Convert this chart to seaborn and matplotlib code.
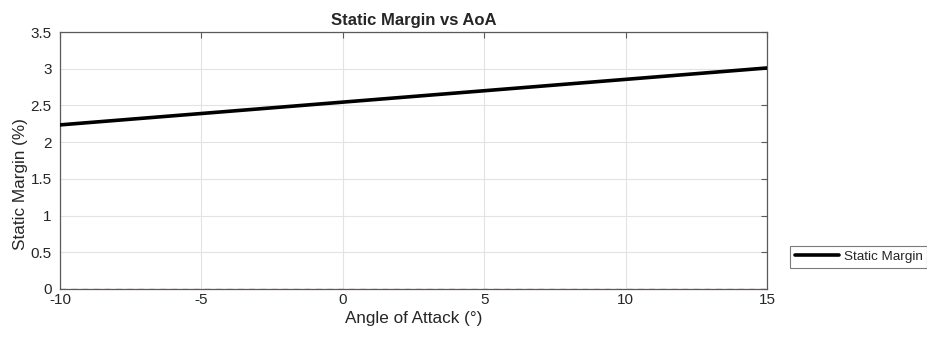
import numpy as np
import pandas as pd
import seaborn as sns
import matplotlib
matplotlib.use("Agg")
import matplotlib.pyplot as plt

aoa = [-10, -5, 0, 5, 10, 15]
static_margin = [2.235, 2.39, 2.545, 2.70, 2.855, 3.01]
x_ticks = [-10, -5, 0, 5, 10, 15]
y_ticks = [0, 0.5, 1, 1.5, 2, 2.5, 3, 3.5]
y_tick_labels = ["0", "0.5", "1", "1.5", "2", "2.5", "3", "3.5"]

df = pd.DataFrame({"AoA": aoa, "SM": static_margin, "series": "Static Margin"})

sns.set_theme(style="white")
plt.rcParams["font.family"] = ["Liberation Sans", "DejaVu Sans"]

fig = plt.figure(figsize=(9.28, 3.39), dpi=100)
ax = fig.add_axes([0.0647, 0.1475, 0.7618, 0.7581])

ax.axhline(0, color="#e08080", lw=1.0, ls=(0, (4, 4)), zorder=1)
sns.lineplot(data=df, x="AoA", y="SM", color="black", lw=2.6, ax=ax,
             label="Static Margin", zorder=3)

ax.set_xlim(-10, 15)
ax.set_ylim(0, 3.5)
ax.set_xticks(x_ticks)
ax.set_xticklabels([str(t) for t in x_ticks])
ax.set_yticks(y_ticks)
ax.set_yticklabels(y_tick_labels)
ax.grid(True, color="#e3e3e3", lw=0.8)
ax.set_axisbelow(True)
for s in ax.spines.values():
    s.set_color("#5a5a5a")
    s.set_linewidth(0.9)
ax.tick_params(direction="in", length=4, width=0.8, color="#5a5a5a",
               top=True, right=True, labelsize=11, labelcolor="#262626")
ax.tick_params(axis="x", pad=3)
ax.tick_params(axis="y", pad=6)

ax.set_xlabel("Angle of Attack (°)", fontsize=12.3, color="#262626", labelpad=3)
ax.set_ylabel("Static Margin (%)", fontsize=12.3, color="#262626")
ax.yaxis.set_label_coords(-0.0456, 0.41)
ax.set_title("Static Margin vs AoA", fontsize=12, fontweight="bold", pad=5)

leg = ax.legend(loc="upper left", bbox_to_anchor=(790 / 928, 1 - 246 / 339),
                bbox_transform=fig.transFigure, fontsize=9.7, frameon=True,
                fancybox=False, handlelength=3.3, borderpad=0.35,
                handletextpad=0.35, borderaxespad=0)
leg.get_frame().set_edgecolor("#5a5a5a")
leg.get_frame().set_linewidth(0.8)

fig.savefig("out.png", dpi=100)
